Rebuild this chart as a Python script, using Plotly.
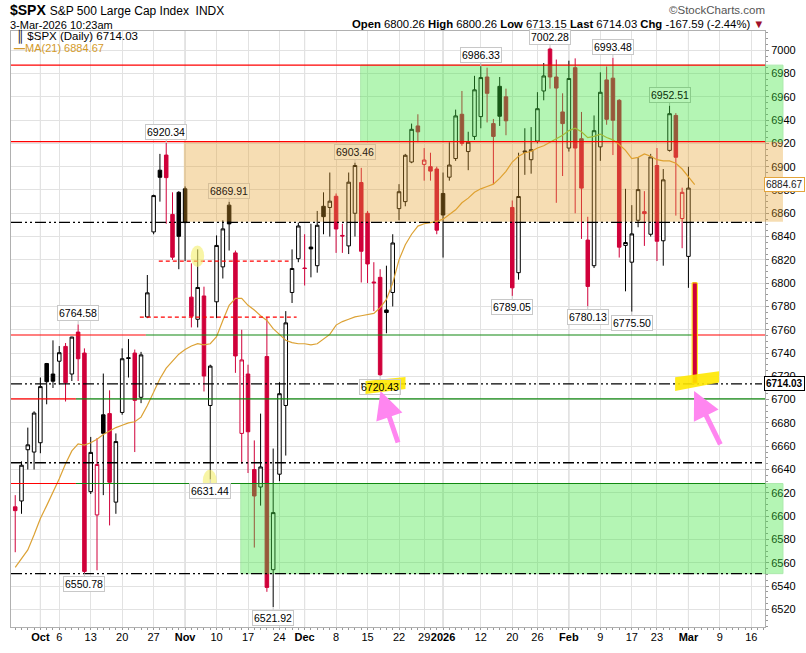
import plotly.graph_objects as go
import pandas as pd

# ---------------- data ----------------
holidays = ["2025-11-27", "2025-12-25", "2026-01-01", "2026-01-19", "2026-02-16"]
dates = pd.bdate_range("2025-09-25", "2026-03-03", freq="C", holidays=holidays)

prior_close = 6637.97

opens = [6608, 6613, 6657, 6655, 6663, 6731, 6722,
         6733, 6745.7, 6722, 6758, 6740, 6621, 6601, 6687, 6688, 6612,
         6689, 6736, 6740, 6702, 6771, 6844, 6897, 6910, 6859, 6878,
         6881, 6788, 6769, 6789, 6695, 6784, 6814, 6867, 6826, 6671,
         6722, 6640, 6625, 6737, 6554, 6636, 6695, 6792, 6821,
         6813, 6831, 6815, 6866, 6865, 6874.6, 6841, 6832, 6860, 6886.4,
         6860, 6801, 6805, 6777, 6792, 6864, 6870, 6904, 6935,
         6902, 6900, 6898,
         6877, 6891, 6907, 6945, 6913, 6926, 6943, 6977, 6937, 6969, 6960,
         6865, 6809, 6913.5, 6906, 6922, 6965, 7001, 6977, 6947,
         6916, 6985, 6924, 6837, 6815, 6917, 6974.5, 6976, 6957, 6832.4,
         6818, 6854, 6861.4, 6842, 6901, 6836.4, 6914, 6944, 6855.5,
         6823, 6800.26]
highs = [6618, 6647, 6676, 6690, 6719, 6731.5, 6750.9,
         6746, 6748.6, 6754, 6764.58, 6744, 6668, 6667, 6722.4, 6708, 6671,
         6744, 6752, 6743, 6741, 6807, 6876, 6911, 6920.34, 6878, 6879,
         6883, 6817, 6829, 6797, 6730, 6841, 6854, 6869.91, 6828, 6760,
         6730, 6665, 6688, 6771, 6658, 6715, 6776, 6829, 6852,
         6842, 6851, 6862, 6878, 6895, 6877, 6851, 6895, 6903.46, 6899,
         6862, 6818, 6812, 6815, 6842, 6885, 6911, 6937, 6945,
         6916, 6912, 6900,
         6895, 6921, 6949, 6965, 6930, 6978, 6986.33, 6985, 6941, 6977, 6967,
         6871, 6912, 6933, 6934, 6964, 6989, 7002.28, 6992, 6963,
         6991, 6993, 6947, 6857, 6944, 6981, 6986, 6993.48, 6958, 6881,
         6867, 6908, 6879, 6911, 6916, 6898, 6952.51, 6946, 6882,
         6900, 6800.26]
lows = [6569, 6602, 6640, 6640, 6654, 6696, 6710,
        6713, 6698.4, 6716, 6716, 6550.78, 6619, 6553.5, 6618, 6592, 6602,
        6687, 6719, 6655, 6697, 6770, 6842, 6870, 6851, 6820, 6812,
        6819, 6762, 6762, 6707, 6631.44, 6770, 6804, 6828, 6723, 6645,
        6637, 6573, 6609, 6535, 6521.92, 6630, 6652, 6783, 6818,
        6798, 6805, 6809, 6842, 6840, 6826, 6826, 6825, 6840, 6800.6,
        6800, 6776, 6720.43, 6757, 6780, 6854, 6866, 6903, 6921,
        6888, 6888, 6842,
        6822, 6888, 6905, 6918, 6897, 6923, 6933, 6938, 6885, 6935, 6927,
        6789.05, 6803, 6893, 6894, 6920, 6957, 6967, 6869, 6892,
        6913, 6860, 6838, 6780.13, 6813, 6905, 6936, 6910, 6822, 6793,
        6775.50, 6848, 6832, 6840, 6819, 6815, 6913, 6858, 6830,
        6796, 6713.15]
closes = [6604.7, 6643.7, 6661.2, 6688.5, 6711.2, 6715.4, 6715.8,
          6740.3, 6714.6, 6753.7, 6735.1, 6552.5, 6654.7, 6644.3, 6671.1, 6629.1, 6664.0,
          6735.1, 6735.4, 6699.4, 6738.4, 6791.7, 6875.2, 6890.9, 6890.6, 6822.3, 6840.2,
          6852.0, 6771.6, 6796.3, 6720.3, 6728.8, 6832.4, 6846.6, 6850.9, 6737.5, 6734.1,
          6672.4, 6617.3, 6642.2, 6538.8, 6603.0, 6705.1, 6765.9, 6812.6, 6849.1,
          6812.6, 6829.4, 6849.7, 6857.1, 6870.4, 6846.5, 6840.5, 6886.7, 6901.0, 6827.4,
          6816.5, 6800.3, 6721.4, 6774.8, 6834.5, 6878.5, 6909.8, 6932.1, 6929.9,
          6905.7, 6896.2, 6845.5,
          6858.5, 6901.4, 6943.6, 6920.0, 6921.0, 6966.0, 6976.5, 6963.0, 6926.0, 6943.3, 6939.4,
          6796.0, 6874.4, 6912.5, 6914.6, 6949.8, 6977.9, 6977.0, 6967.5, 6937.0,
          6975.7, 6916.0, 6881.6, 6797.2, 6930.9, 6963.9, 6940.7, 6939.9, 6830.9, 6834.9,
          6842.3, 6880.3, 6859.7, 6908.4, 6836.0, 6888.7, 6945.5, 6908.1, 6878.0,
          6881.62, 6714.03]
ma21 = [6556, 6563, 6571, 6584, 6598, 6609, 6620,
        6632, 6645, 6656, 6662, 6661, 6663, 6666, 6670, 6673, 6676,
        6678, 6680, 6681, 6685, 6695, 6706, 6718, 6727, 6733, 6739,
        6743, 6746, 6748, 6747, 6748, 6754, 6768, 6781, 6787, 6787,
        6781, 6777, 6772, 6768, 6761, 6756, 6751, 6749, 6748,
        6748, 6747, 6748, 6752, 6756, 6764, 6767, 6769, 6771, 6772,
        6773, 6774, 6779, 6786, 6800, 6820, 6833, 6842, 6849,
        6851, 6852, 6853,
        6855, 6859, 6863, 6869, 6873, 6878, 6881, 6883, 6885, 6890, 6896,
        6904, 6909, 6912, 6913, 6916, 6918, 6921, 6924, 6927,
        6931, 6933, 6930, 6925, 6926, 6928, 6925, 6923, 6919, 6914,
        6907, 6908, 6911, 6909, 6906, 6905, 6905, 6903, 6898,
        6891, 6884.67]

tick_dates = ["2025-10-01", "2025-10-06", "2025-10-13", "2025-10-20", "2025-10-27",
              "2025-11-03", "2025-11-10", "2025-11-17", "2025-11-24",
              "2025-12-01", "2025-12-08", "2025-12-15", "2025-12-22", "2025-12-29",
              "2026-01-02", "2026-01-12", "2026-01-20", "2026-01-26",
              "2026-02-02", "2026-02-09", "2026-02-17", "2026-02-23",
              "2026-03-02", "2026-03-09", "2026-03-16"]
tick_labels = ["<b>Oct</b>", "6", "13", "20", "27", "<b>Nov</b>", "10", "17", "24",
               "<b>Dec</b>", "8", "15", "22", "29", "<b>2026</b>", "12", "20", "26",
               "<b>Feb</b>", "9", "17", "23", "<b>Mar</b>", "9", "16"]
month_dates = ["2025-10-01", "2025-11-03", "2025-12-01", "2026-01-02", "2026-02-02", "2026-03-02"]

high_label_dates = ["2025-10-09", "2025-10-29", "2025-11-12", "2025-12-11",
                    "2026-01-12", "2026-01-28", "2026-02-11", "2026-02-25"]
low_label_dates = ["2025-10-10", "2025-11-07", "2025-11-21", "2025-12-17",
                   "2026-01-20", "2026-02-05", "2026-02-17"]

# horizontal levels
red_levels = [6987.2, 6921.6]
dashdot_levels = [6852.2, 6713.5, 6645.8, 6550.6]
mixed_levels = [6755.5, 6700.6, 6628.0]
red_dash_levels = [6819.0, 6770.8]

# ---------------- geometry helpers (page pixels) ----------------
all_days = pd.bdate_range("2025-09-25", "2026-03-31", freq="C", holidays=holidays)
pos = {d.strftime("%Y-%m-%d"): i for i, d in enumerate(all_days)}
xs = [pos[d.strftime("%Y-%m-%d")] for d in dates]
n = len(dates)

W, H = 806, 653
PL, PR, PT, PB = 10, 765, 31, 637   # plot area in page pixels
X0, X1 = -0.67, 119.17
Y0, Y1 = 6504.8, 7016.5
PW, PH = PR - PL, PB - PT


def px2x(px):
    return X0 + (px - PL) / PW * (X1 - X0)


def py2y(py):
    return Y1 - (py - PT) / PH * (Y1 - Y0)


def px2paper(px):
    return (px - PL) / PW


def py2paper(py):
    return 1 - (py - PT) / PH


def x2paper(x):
    return (x - X0) / (X1 - X0)


RED = "#d0003a"
FONT = "Liberation Sans, Arial, sans-serif"

fig = go.Figure()

# ---------------- candles ----------------
prev = [prior_close] + closes[:-1]
styles = {(True, True): ("#000000", "#ffffff"), (True, False): (RED, "#ffffff"),
          (False, True): ("#000000", "#000000"), (False, False): (RED, RED)}
for (hollow, up), (lc, fc) in styles.items():
    sel = [i for i in range(n) if (closes[i] >= opens[i]) == hollow and (closes[i] >= prev[i]) == up]
    if not sel:
        continue
    fig.add_trace(go.Candlestick(
        x=[xs[i] for i in sel], open=[opens[i] for i in sel], high=[highs[i] for i in sel],
        low=[lows[i] for i in sel], close=[closes[i] for i in sel],
        increasing=dict(line=dict(color=lc, width=1), fillcolor=fc),
        decreasing=dict(line=dict(color=lc, width=1), fillcolor=fc),
        whiskerwidth=0, showlegend=False, hoverinfo="skip"))

fig.add_trace(go.Scatter(x=xs, y=ma21, mode="lines", line=dict(color="#dca235", width=1.2),
                         showlegend=False, hoverinfo="skip"))

shapes = []
for d in month_dates:
    shapes.append(dict(type="line", xref="x", yref="paper", x0=pos[d], x1=pos[d], y0=0, y1=1,
                       line=dict(color="#c4c4c4", width=1), layer="below"))

# zones (drawn over candles)
i_nov3 = pos["2025-11-03"]
i_dec12 = pos["2025-12-12"]
i_nov14 = pos["2025-11-14"]
right_edge = px2paper(783)
zones = [
    (x2paper(i_nov3 - 0.2), 6852.7, 6921.6, "rgb(230,160,40)", 0.35, "rgba(0,0,0,0)"),
    (x2paper(i_dec12 - 0.1), 6921.6, 6987.2, "rgb(60,230,60)", 0.38, "rgb(40,200,40)"),
    (x2paper(i_nov14 - 0.15), 6550.6, 6628.0, "rgb(60,230,60)", 0.38, "rgb(40,200,40)"),
]
for x0p, ylo, yhi, col, op, lcol in zones:
    shapes.append(dict(type="rect", xref="paper", yref="y", x0=x0p, x1=right_edge, y0=ylo, y1=yhi,
                       fillcolor=col, opacity=op, line=dict(color=lcol, width=1), layer="above"))

for lv in red_levels:
    shapes.append(dict(type="line", xref="paper", yref="y", x0=0, x1=1, y0=lv, y1=lv,
                       line=dict(color="#ff0000", width=1.2), layer="above"))
for lv in dashdot_levels:
    shapes.append(dict(type="line", xref="paper", yref="y", x0=0, x1=px2paper(762), y0=lv, y1=lv,
                       line=dict(color="#000000", width=1.3, dash="11px,3px,2px,3px,2px,3px"),
                       layer="above"))
mixed_green_start = [145, 75, 75]
mixed_green_end = [693, 765, 765]
for lv, gs, ge in zip(mixed_levels, mixed_green_start, mixed_green_end):
    shapes.append(dict(type="line", xref="paper", yref="y", x0=0, x1=px2paper(gs), y0=lv, y1=lv,
                       line=dict(color="#ff0000", width=1.2), layer="above"))
    if ge < PR:
        shapes.append(dict(type="line", xref="paper", yref="y", x0=px2paper(ge), x1=1, y0=lv, y1=lv,
                           line=dict(color="#ff0000", width=1.2), layer="above"))
    shapes.append(dict(type="line", xref="paper", yref="y", x0=px2paper(gs), x1=px2paper(ge),
                       y0=lv, y1=lv, line=dict(color="#118811", width=1.2), layer="above"))
dash_spans = [(158, 288), (139, 296)]
for lv, (a, b) in zip(red_dash_levels, dash_spans):
    shapes.append(dict(type="line", xref="x", yref="y", x0=px2x(a), x1=px2x(b), y0=lv, y1=lv,
                       line=dict(color="#ff0000", width=1.2, dash="4px,3px"), layer="above"))

li = n - 1
shapes.append(dict(type="rect", xref="x", yref="y", x0=xs[li] - 0.42, x1=xs[li] + 0.42,
                   y0=closes[li], y1=opens[li], line=dict(color="#ffe600", width=1),
                   fillcolor="rgba(0,0,0,0)", layer="above"))


def ell(cx, cy, rx, ry):
    return dict(type="circle", xref="x", yref="y", x0=px2x(cx - rx), x1=px2x(cx + rx),
                y0=py2y(cy + ry), y1=py2y(cy - ry), fillcolor="#f4ee6a", opacity=0.6,
                line=dict(width=0), layer="above")


shapes.append(ell(196.7, 260, 6.7, 11))
shapes.append(ell(209, 489, 7, 12))


def poly(pts):
    path = "M " + " L ".join(f"{px2x(a):.3f},{py2y(b):.2f}" for a, b in pts) + " Z"
    return dict(type="path", xref="x", yref="y", path=path, fillcolor="#ffe800", opacity=0.9,
                line=dict(width=0), layer="above")


shapes.append(poly([(365, 387), (405, 382.7), (405, 395), (365, 400)]))
shapes.append(poly([(675, 383), (719, 377), (719, 388.5), (675, 397)]))

# ---------------- annotations ----------------
ann = []


def in_orange(v, x):
    return x >= i_nov3 and 6852.7 <= v <= 6921.6


def in_green(v, x):
    return x >= i_dec12 and 6921.6 <= v <= 6987.2


LBL = 10.5
for d in high_label_dates:
    k = pos[d]
    i = xs.index(k)
    v = highs[i]
    bg, bc, fc = "#ffffff", "#c8c8c8", "#000000"
    if in_orange(v + 8, k):
        bg, bc, fc = "#f5deb4", "#d7c09a", "#2a2010"
    elif in_green(v + 8, k):
        bg, bc, fc = "#b7f5b7", "#8acb8a", "#0a300a"
    ann.append(dict(x=k, y=v, xref="x", yref="y", text=f"{v:.2f}", showarrow=True, arrowhead=0,
                    arrowcolor=bc, arrowwidth=1, ax=0, ay=-11, bgcolor=bg, bordercolor=bc,
                    borderwidth=1, borderpad=1, font=dict(family=FONT, size=LBL, color=fc)))
for d in low_label_dates:
    k = pos[d]
    i = xs.index(k)
    v = lows[i]
    bg = "rgba(255,255,255,0)" if d == "2025-12-17" else "#ffffff"
    ann.append(dict(x=k, y=v, xref="x", yref="y", text=f"{v:.2f}", showarrow=True, arrowhead=0,
                    arrowcolor="#c8c8c8", arrowwidth=1, ax=0, ay=11, bgcolor=bg,
                    bordercolor="#c8c8c8", borderwidth=1, borderpad=1,
                    font=dict(family=FONT, size=LBL, color="#000000")))

ann.append(dict(x=px2x(380), y=py2y(397), xref="x", yref="y", text="", showarrow=True,
                arrowhead=2, arrowsize=1.1, arrowwidth=5, arrowcolor="#ff86f0", ax=18, ay=53))
ann.append(dict(x=px2x(694), y=py2y(397), xref="x", yref="y", text="", showarrow=True,
                arrowhead=2, arrowsize=1.1, arrowwidth=5, arrowcolor="#ff86f0", ax=27, ay=55))

ann.append(dict(x=px2paper(764), y=ma21[-1], xref="paper", yref="y", xanchor="left",
                text=f"{ma21[-1]:.2f}", showarrow=False, bgcolor="#ffffff",
                bordercolor="#e3a43c", borderwidth=1, borderpad=1,
                font=dict(family=FONT, size=10, color="#222222")))
ann.append(dict(x=px2paper(764), y=closes[-1], xref="paper", yref="y", xanchor="left",
                text=f"<b>{closes[-1]:.2f}</b>", showarrow=False, bgcolor="#ffffff",
                bordercolor="#000000", borderwidth=1, borderpad=1,
                font=dict(family=FONT, size=10, color="#000000")))

ann.append(dict(x=px2paper(13), y=py2paper(37), xref="paper", yref="paper", xanchor="left",
                yanchor="middle", showarrow=False,
                text=f"<b>\u2551</b> $SPX (Daily) {closes[-1]:.2f}",
                font=dict(family=FONT, size=11.5, color="#000000")))
ann.append(dict(x=px2paper(11), y=py2paper(48.5), xref="paper", yref="paper", xanchor="left",
                yanchor="middle", showarrow=False,
                text=f"<b>\u2014</b>MA(21) {ma21[-1]:.2f}",
                font=dict(family=FONT, size=11, color="#d49a2a")))

ann.append(dict(x=px2paper(7), y=py2paper(10), xref="paper", yref="paper", xanchor="left",
                yanchor="middle", showarrow=False,
                text="<b>$SPX</b> <span style='font-size:12px'>S&P 500 Large Cap Index  INDX</span>",
                font=dict(family=FONT, size=14, color="#000000")))
ann.append(dict(x=px2paper(7), y=py2paper(24.5), xref="paper", yref="paper", xanchor="left",
                yanchor="middle", showarrow=False, text="3-Mar-2026 10:23am",
                font=dict(family=FONT, size=11, color="#000000")))
chg = closes[-1] - closes[-2]
pct = chg / closes[-2] * 100
ann.append(dict(x=px2paper(767), y=py2paper(24), xref="paper", yref="paper", xanchor="right",
                yanchor="middle", showarrow=False,
                text=(f"<b>Open</b> {opens[-1]:.2f} <b>High</b> {highs[-1]:.2f} "
                      f"<b>Low</b> {lows[-1]:.2f} <b>Last</b> {closes[-1]:.2f} "
                      f"<b>Chg</b> {chg:.2f} ({pct:.2f}%) <span style='color:#a0102a'>\u25bc</span>"),
                font=dict(family=FONT, size=11.3, color="#000000")))
ann.append(dict(x=px2paper(767), y=py2paper(10), xref="paper", yref="paper", xanchor="right",
                yanchor="middle", showarrow=False, text="\u00a9StockCharts.com",
                font=dict(family=FONT, size=11.5, color="#555555")))

fig.update_layout(
    width=W, height=H,
    margin=dict(l=PL, r=W - PR, t=PT, b=H - PB),
    paper_bgcolor="#ffffff", plot_bgcolor="#ffffff",
    showlegend=False, boxgap=0.2, boxmode="overlay",
    shapes=shapes, annotations=ann,
    xaxis=dict(range=[X0, X1], tickmode="array", tickvals=[pos[d] for d in tick_dates],
               ticktext=tick_labels, tickangle=0, showgrid=True, gridcolor="#e2e2e2", gridwidth=1,
               zeroline=False, showline=True, linecolor="#b0b0b0", mirror=True,
               ticks="", tickfont=dict(family=FONT, size=11, color="#000000"),
               rangeslider=dict(visible=False),
               minor=dict(dtick=1, ticks="outside", ticklen=2, tickcolor="#999999", showgrid=False)),
    yaxis=dict(range=[Y0, Y1], side="right", tickmode="array",
               tickvals=list(range(6520, 7001, 20)), showgrid=True, gridcolor="#e2e2e2",
               zeroline=False, showline=True, linecolor="#b0b0b0", mirror=True,
               ticks="outside", ticklen=3, tickcolor="#999999",
               tickfont=dict(family=FONT, size=11, color="#000000"),
               minor=dict(dtick=5, ticks="outside", ticklen=2, tickcolor="#999999", showgrid=False)),
)

fig.write_html("out.html", config={"displayModeBar": False},
               post_script="document.body.style.margin='0';document.body.style.padding='0';"
                           "document.body.style.overflow='hidden';")
